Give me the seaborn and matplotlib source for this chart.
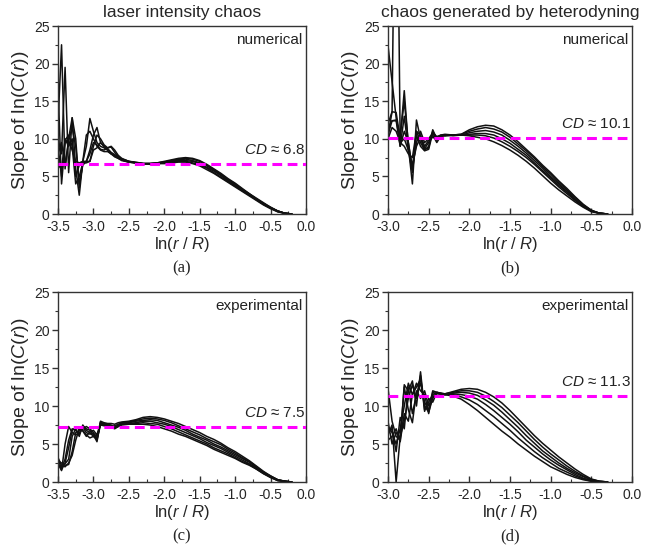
import pandas as pd
import matplotlib.pyplot as plt
import seaborn as sns
from matplotlib.ticker import MultipleLocator

sns.set_style('ticks')
plt.rcParams['font.family'] = ['Liberation Sans', 'DejaVu Sans']
plt.rcParams['mathtext.fontset'] = 'custom'
plt.rcParams['mathtext.rm'] = 'Liberation Sans'
plt.rcParams['mathtext.it'] = 'Liberation Sans:italic'

# (a) laser intensity chaos, numerical
xa = [-3.50, -3.45, -3.40, -3.35, -3.30, -3.25, -3.20, -3.15, -3.10, -3.05, -3.00,
      -2.95, -2.90, -2.85, -2.80, -2.75, -2.70, -2.65, -2.60, -2.50, -2.40,
      -2.30, -2.20, -2.10, -2.00, -1.90, -1.80, -1.70, -1.60, -1.50, -1.40, -1.30,
      -1.20, -1.10, -1.00, -0.90, -0.80, -0.70, -0.60, -0.50, -0.40, -0.30, -0.20]
a1 = [17.0, 4.0, 9.5, 10.0, 12.8, 6.0, 2.5, 7.0, 9.0, 12.7, 11.0, 9.5, 9.0, 8.8, 8.5, 8.0, 7.8, 7.5, 7.3, 7.0, 6.9,
      6.7, 6.7, 6.8, 7.0, 7.2, 7.4, 7.5, 7.4, 7.1, 6.6, 6.0, 5.4, 4.7, 4.1, 3.4, 2.7, 2.1, 1.5, 0.9, 0.4, 0.1, 0.0]
a2 = [12.0, 22.5, 6.0, 9.8, 11.5, 9.0, 4.0, 6.5, 7.0, 8.5, 10.5, 11.5, 9.5, 9.0, 8.7, 8.2, 7.9, 7.6, 7.3, 7.0, 6.8,
      6.7, 6.7, 6.8, 6.9, 7.1, 7.3, 7.4, 7.3, 7.0, 6.5, 5.9, 5.3, 4.6, 4.0, 3.3, 2.7, 2.0, 1.4, 0.9, 0.4, 0.1, 0.0]
a3 = [10.0, 8.0, 19.5, 5.5, 12.8, 10.0, 3.5, 6.8, 7.0, 7.0, 9.0, 10.5, 10.0, 9.2, 8.8, 9.0, 8.5, 7.8, 7.4, 7.0, 6.8,
      6.7, 6.7, 6.8, 6.9, 7.1, 7.2, 7.3, 7.1, 6.8, 6.4, 5.8, 5.2, 4.5, 3.9, 3.2, 2.6, 2.0, 1.4, 0.8, 0.4, 0.1, 0.0]
a4 = [9.0, 5.0, 10.0, 9.0, 10.0, 5.0, 6.5, 7.0, 10.5, 11.0, 10.0, 9.0, 8.5, 8.3, 8.3, 8.0, 7.6, 7.4, 7.2, 6.9, 6.8,
      6.7, 6.7, 6.7, 6.8, 7.0, 7.1, 7.1, 7.0, 6.7, 6.2, 5.7, 5.1, 4.4, 3.8, 3.2, 2.6, 1.9, 1.3, 0.8, 0.4, 0.1, 0.0]
a5 = [8.0, 9.5, 6.5, 9.8, 8.5, 7.0, 6.8, 7.0, 7.0, 8.0, 9.5, 9.2, 8.6, 8.5, 8.8, 8.9, 8.2, 7.6, 7.2, 6.9, 6.8,
      6.7, 6.7, 6.7, 6.8, 6.9, 7.0, 7.0, 6.8, 6.5, 6.1, 5.5, 4.9, 4.3, 3.7, 3.1, 2.5, 1.9, 1.3, 0.8, 0.3, 0.1, 0.0]
a6 = [6.5, 6.0, 9.8, 10.5, 9.0, 4.0, 5.0, 6.8, 6.8, 7.0, 8.5, 8.8, 9.5, 9.0, 8.5, 8.0, 7.7, 7.4, 7.1, 6.9, 6.8,
      6.7, 6.6, 6.7, 6.7, 6.8, 6.9, 6.9, 6.7, 6.4, 5.9, 5.4, 4.8, 4.2, 3.6, 3.0, 2.4, 1.8, 1.2, 0.7, 0.3, 0.1, 0.0]

# (b) chaos generated by heterodyning, numerical
xb = [-3.00, -2.95, -2.90, -2.85, -2.80, -2.75, -2.70, -2.65, -2.60, -2.55, -2.50, -2.45,
      -2.40, -2.35, -2.30, -2.20,
      -2.10, -2.00, -1.90, -1.80, -1.70, -1.60, -1.50, -1.40, -1.30, -1.20, -1.10,
      -1.00, -0.90, -0.80, -0.70, -0.60, -0.50, -0.40, -0.30]
b1 = [22.4, 17.6, 12.8, 9.0, 11.0, 9.5, 6.0, 11.0, 9.5, 8.5, 9.0, 11.0, 10.0, 10.4, 10.5, 10.5,
      10.6, 11.2, 11.6, 11.8, 11.7, 11.2, 10.5, 9.6, 8.6, 7.6, 6.5, 5.5, 4.4, 3.4, 2.3, 1.3, 0.5, 0.1, 0.0]
b2 = [12.0, 13.6, 60.0, 9.5, 10.0, 8.5, 5.5, 10.5, 9.0, 8.4, 8.6, 10.8, 9.8, 10.3, 10.5, 10.5,
      10.6, 11.0, 11.3, 11.5, 11.3, 10.9, 10.2, 9.3, 8.4, 7.4, 6.3, 5.3, 4.2, 3.2, 2.2, 1.2, 0.5, 0.1, 0.0]
b3 = [10.5, 13.6, 13.5, 10.0, 16.4, 9.0, 4.0, 12.5, 10.0, 8.6, 8.8, 11.2, 10.0, 10.5, 10.6, 10.5,
      10.5, 10.8, 11.0, 11.1, 10.9, 10.5, 9.8, 9.0, 8.1, 7.1, 6.1, 5.0, 4.0, 3.0, 2.0, 1.1, 0.4, 0.1, 0.0]
b4 = [10.5, 12.4, 12.4, 9.0, 13.0, 8.5, 6.5, 9.0, 10.2, 8.7, 9.5, 10.5, 9.5, 10.4, 10.4, 10.5,
      10.5, 10.6, 10.7, 10.7, 10.5, 10.0, 9.4, 8.6, 7.8, 6.8, 5.8, 4.8, 3.8, 2.9, 1.9, 1.1, 0.4, 0.1, 0.0]
b5 = [11.5, 12.4, 12.5, 10.5, 15.0, 9.5, 6.0, 9.5, 11.0, 9.5, 10.0, 10.8, 10.3, 10.5, 10.4, 10.5,
      10.5, 10.5, 10.5, 10.4, 10.1, 9.6, 9.0, 8.3, 7.5, 6.6, 5.6, 4.6, 3.6, 2.7, 1.8, 1.0, 0.4, 0.1, 0.0]
b6 = [10.0, 11.5, 11.0, 9.5, 9.0, 8.0, 7.5, 11.0, 10.5, 9.0, 9.8, 10.2, 10.0, 10.3, 10.5, 10.4,
      10.5, 10.4, 10.2, 10.0, 9.6, 9.1, 8.5, 7.8, 7.0, 6.1, 5.1, 4.1, 3.2, 2.4, 1.6, 0.9, 0.3, 0.1, 0.0]

# (c) laser intensity chaos, experimental
xc = [-3.50, -3.45, -3.40, -3.35, -3.30, -3.25, -3.20, -3.15, -3.10, -3.05, -3.00,
      -2.95, -2.90, -2.85, -2.80, -2.75, -2.70, -2.65, -2.60,
      -2.50, -2.40, -2.30, -2.20, -2.10, -2.00, -1.90, -1.80, -1.70, -1.60, -1.50, -1.40,
      -1.30, -1.20, -1.10, -1.00, -0.90, -0.80, -0.70, -0.60, -0.50, -0.40, -0.30, -0.20]
c1 = [2.5, 1.5, 5.0, 7.3, 6.5, 6.2, 6.5, 7.0, 7.3, 7.0, 6.5, 5.5, 8.0, 7.8, 7.7, 7.7, 7.6, 7.8, 7.9,
      8.0, 8.2, 8.5, 8.6, 8.5, 8.3, 8.0, 7.7, 7.3, 6.9, 6.5, 6.0, 5.6, 5.1, 4.5, 4.0, 3.4, 2.8, 2.1, 1.4, 0.8, 0.3, 0.1, 0.0]
c2 = [3.0, 1.8, 3.0, 5.5, 7.0, 6.8, 6.3, 7.4, 7.0, 6.8, 6.2, 5.3, 7.9, 7.6, 7.5, 7.3, 7.4, 7.6, 7.8,
      7.9, 8.1, 8.3, 8.4, 8.3, 8.1, 7.8, 7.4, 7.0, 6.6, 6.2, 5.7, 5.3, 4.9, 4.3, 3.8, 3.2, 2.7, 2.0, 1.3, 0.8, 0.3, 0.1, 0.0]
c3 = [2.2, 2.0, 2.4, 3.0, 6.0, 7.0, 6.0, 7.5, 6.8, 6.5, 6.0, 5.8, 7.7, 7.5, 7.4, 7.2, 7.0, 7.3, 7.6,
      7.8, 8.0, 8.1, 8.2, 8.1, 7.8, 7.5, 7.2, 6.8, 6.3, 5.9, 5.5, 5.0, 4.6, 4.1, 3.6, 3.1, 2.6, 1.9, 1.3, 0.7, 0.3, 0.1, 0.0]
c4 = [2.8, 2.5, 2.2, 2.3, 4.0, 6.5, 6.8, 7.2, 6.5, 6.3, 6.4, 6.0, 7.6, 7.7, 7.6, 7.3, 7.1, 7.4, 7.6,
      7.7, 7.8, 8.0, 8.0, 7.8, 7.6, 7.3, 6.9, 6.5, 6.1, 5.7, 5.2, 4.8, 4.4, 3.9, 3.4, 2.9, 2.4, 1.8, 1.2, 0.7, 0.2, 0.1, 0.0]
c5 = [2.4, 1.6, 2.5, 4.5, 6.8, 7.2, 6.9, 6.7, 6.0, 6.6, 6.8, 6.2, 7.8, 7.5, 7.6, 7.5, 7.2, 7.5, 7.7,
      7.7, 7.7, 7.8, 7.7, 7.6, 7.3, 7.0, 6.6, 6.2, 5.8, 5.4, 5.0, 4.5, 4.1, 3.7, 3.2, 2.7, 2.3, 1.7, 1.1, 0.6, 0.2, 0.1, 0.0]
c6 = [3.2, 2.2, 2.0, 2.5, 3.5, 5.5, 7.0, 6.8, 6.2, 5.8, 6.0, 5.6, 7.5, 7.4, 7.3, 7.2, 7.1, 7.3, 7.5,
      7.6, 7.6, 7.6, 7.5, 7.3, 7.0, 6.7, 6.3, 6.0, 5.6, 5.2, 4.8, 4.3, 3.9, 3.5, 3.1, 2.6, 2.2, 1.7, 1.1, 0.6, 0.2, 0.05, 0.0]

# (d) chaos generated by heterodyning, experimental
xd = [-3.00, -2.95, -2.90, -2.85, -2.80, -2.75, -2.70, -2.65, -2.60, -2.55, -2.50, -2.45, -2.40,
      -2.30, -2.20, -2.10, -2.00, -1.90, -1.80, -1.70, -1.60, -1.50, -1.40, -1.30,
      -1.20, -1.10, -1.00, -0.90, -0.80, -0.70, -0.60, -0.50, -0.40, -0.30]
d1 = [12.3, 8.0, 6.0, 5.5, 12.8, 12.0, 13.3, 10.0, 14.5, 9.5, 10.5, 11.5, 11.8,
      11.6, 11.9, 12.2, 12.3, 12.2, 11.8, 11.2, 10.4, 9.4, 8.3, 7.2, 6.1, 5.1, 4.2, 3.3, 2.5, 1.7, 1.0, 0.4, 0.1, 0.0]
d2 = [7.3, 6.5, 5.0, 7.0, 10.0, 13.0, 11.5, 12.5, 13.5, 10.0, 9.2, 11.0, 11.7,
      11.6, 11.8, 12.0, 12.0, 11.8, 11.3, 10.6, 9.8, 8.8, 7.8, 6.7, 5.6, 4.6, 3.7, 2.9, 2.1, 1.4, 0.8, 0.3, 0.1, 0.0]
d3 = [6.2, 7.5, 0.0, 6.0, 8.0, 11.0, 12.8, 11.0, 14.0, 9.3, 11.0, 10.5, 11.8,
      11.5, 11.7, 11.8, 11.7, 11.4, 10.8, 10.1, 9.2, 8.2, 7.2, 6.1, 5.1, 4.1, 3.3, 2.5, 1.8, 1.2, 0.7, 0.3, 0.1, 0.0]
d4 = [5.5, 6.0, 7.0, 5.3, 9.0, 8.0, 11.5, 13.0, 12.0, 11.5, 9.0, 11.8, 11.6,
      11.5, 11.6, 11.5, 11.3, 10.9, 10.2, 9.4, 8.5, 7.6, 6.6, 5.5, 4.6, 3.7, 2.9, 2.2, 1.6, 1.0, 0.5, 0.2, 0.0, 0.0]
d5 = [8.0, 5.0, 6.5, 5.8, 12.5, 9.5, 7.8, 12.0, 11.0, 12.0, 10.0, 11.2, 11.7,
      11.5, 11.5, 11.2, 10.8, 10.2, 9.4, 8.6, 7.7, 6.8, 5.8, 4.9, 4.0, 3.2, 2.5, 1.8, 1.3, 0.8, 0.4, 0.1, 0.0, 0.0]
d6 = [6.5, 7.0, 4.0, 8.5, 7.0, 12.5, 9.0, 11.5, 13.0, 10.5, 9.5, 12.0, 11.8,
      11.5, 11.3, 10.9, 10.2, 9.4, 8.5, 7.6, 6.7, 5.9, 5.0, 4.2, 3.4, 2.7, 2.0, 1.5, 1.0, 0.6, 0.3, 0.1, 0.0, 0.0]

cd_values = [6.7, 10.1, 7.3, 11.3]
cd_labels = ['6.8', '10.1', '7.5', '11.3']
kinds = ['numerical', 'numerical', 'experimental', 'experimental']
letters = ['(a)', '(b)', '(c)', '(d)']
xmins = [-3.5, -3.0, -3.5, -3.0]
panels = [(xa, [a1, a2, a3, a4, a5, a6]),
          (xb, [b1, b2, b3, b4, b5, b6]),
          (xc, [c1, c2, c3, c4, c5, c6]),
          (xd, [d1, d2, d3, d4, d5, d6])]

W, H = 668, 551
boxes = [(58, 306, 26, 214), (388, 632, 26, 214), (58, 306, 292, 482), (388, 632, 292, 482)]

fig = plt.figure(figsize=(W / 100, H / 100), dpi=100)

for i, (x, curves) in enumerate(panels):
    l, r, t, b = boxes[i]
    ax = fig.add_axes([l / W, 1 - b / H, (r - l) / W, (b - t) / H])
    rows = []
    for k, y in enumerate(curves):
        for xv, yv in zip(x, y):
            rows.append({'x': xv, 'y': yv, 'curve': k})
    df = pd.DataFrame(rows)
    sns.lineplot(data=df, x='x', y='y', units='curve', estimator=None, sort=False,
                 color='#111111', lw=1.1, ax=ax, legend=False)
    ax.axhline(cd_values[i], color='#ff00ff', lw=2.2, dashes=(3.2, 1.8), zorder=3)

    ax.set_xlim(xmins[i], 0)
    ax.set_ylim(0, 25)
    ax.xaxis.set_major_locator(MultipleLocator(0.5))
    ax.xaxis.set_minor_locator(MultipleLocator(0.25))
    ax.yaxis.set_major_locator(MultipleLocator(5))
    ax.yaxis.set_minor_locator(MultipleLocator(2.5))
    ax.tick_params(axis='x', which='both', direction='in', labelsize=10, pad=4)
    ax.tick_params(axis='y', which='both', direction='out', labelsize=10, pad=2)
    ax.tick_params(which='major', length=4, width=1, color='#333333')
    ax.tick_params(which='minor', length=2.5, width=0.8, color='#333333')
    ax.set_xticklabels([f'{v:.1f}' for v in ax.get_xticks()])
    for s in ax.spines.values():
        s.set_visible(True)
        s.set_linewidth(1.0)
        s.set_color('#333333')

    ax.set_xlabel(r'ln($\it{r}$ / $\it{R}$)', fontsize=12, labelpad=1)
    ax.set_ylabel(r'Slope of ln($\it{C}$($\it{r}$))', fontsize=14, labelpad=2)

    ax.text(0.985, 0.925, kinds[i], transform=ax.transAxes, ha='right', va='center',
            fontsize=11, color='#222222')
    ax.text(-0.01, cd_values[i] + 0.9, r'$\it{CD}$ ≈ ' + cd_labels[i], ha='right', va='bottom',
            fontsize=11, color='#222222')

    fig.text((l + r) / 2 / W, 1 - (b + 54) / H, letters[i], ha='center', va='center',
             fontsize=12, family='Liberation Serif')

fig.text(182 / W, 1 - 12 / H, 'laser intensity chaos', ha='center', va='center', fontsize=12.5)
fig.text(510 / W, 1 - 12 / H, 'chaos generated by heterodyning', ha='center', va='center', fontsize=12.5)

plt.savefig('out.png', dpi=100)
